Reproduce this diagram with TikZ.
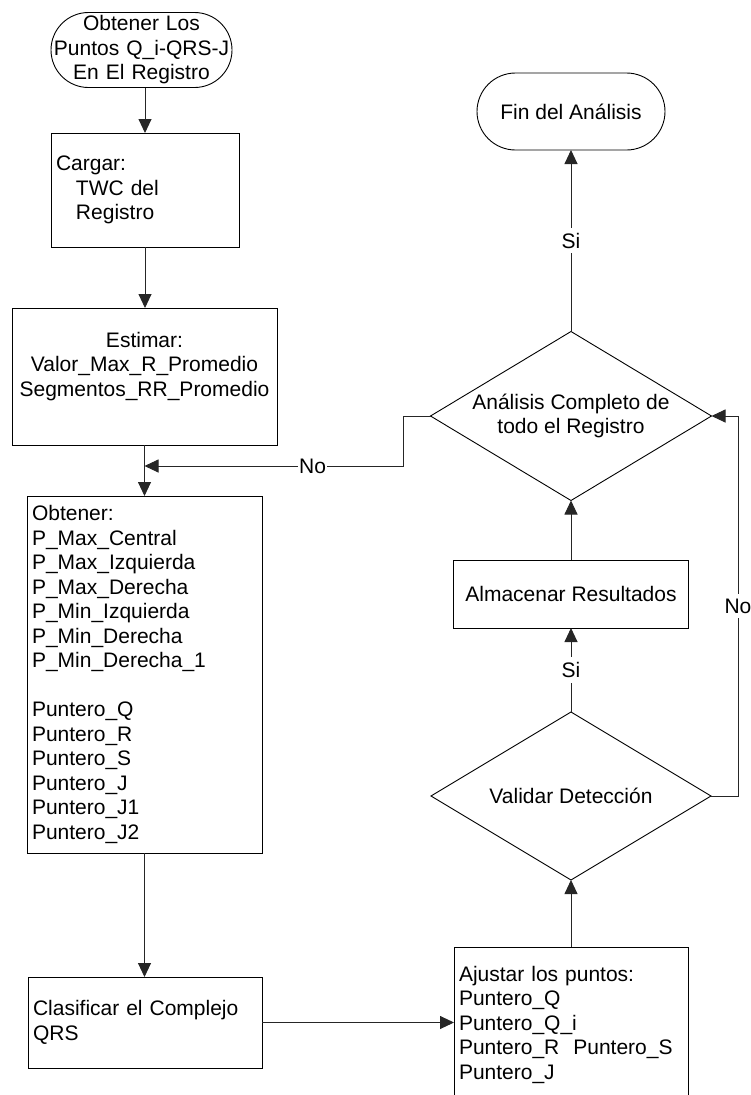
\documentclass[tikz,border=0pt]{standalone}
\usepackage{fontspec}
\setmainfont{Liberation Sans}
\usetikzlibrary{arrows.meta,shapes.geometric}
\begin{document}
\begin{tikzpicture}[x=1pt,y=-1pt,
  every node/.style={font=\fontsize{21}{24.5}\selectfont, outer sep=0pt},
  box/.style={draw=black, line width=0.9pt, rectangle, inner sep=0pt},
  term/.style={draw=black, line width=0.9pt, rectangle, rounded corners=#1, inner sep=0pt, align=center},
  decision/.style={draw=black, line width=0.9pt, diamond, inner sep=0pt, align=center, aspect=1.67},
  flow/.style={draw=black!85, line width=0.9pt, -{Triangle[length=14pt,width=13pt]}},
  lbl/.style={fill=white, inner xsep=1pt, inner ysep=5pt}
]
\useasboundingbox (0,0) rectangle (750,1095);

% left column
\node[term=37.5pt, minimum width=181pt, minimum height=75pt, text width=181pt] (inicio) at (141.5,50)
  {Obtener Los\\Puntos Q\_i-QRS-J\\En El Registro};
\node[box, minimum width=188pt, minimum height=114pt, text width=178pt, align=left] (cargar) at (145,190)
  {Cargar:\\\hspace*{20pt}TWC del\\\hspace*{20pt}Registro};
\node[box, minimum width=265pt, minimum height=137pt, text width=265pt, align=center] (estimar) at (144.5,376.5)
  {Estimar:\\Valor\_Max\_R\_Promedio\\Segmentos\_RR\_Promedio\\\mbox{}};
\node[box, minimum width=235pt, minimum height=357pt, text width=225pt, align=left] (obtener) at (144.5,674.5)
  {Obtener:\\P\_Max\_Central\\P\_Max\_Izquierda\\P\_Max\_Derecha\\P\_Min\_Izquierda\\P\_Min\_Derecha\\P\_Min\_Derecha\_1\\\mbox{}\\Puntero\_Q\\Puntero\_R\\Puntero\_S\\Puntero\_J\\Puntero\_J1\\Puntero\_J2};
\node[box, minimum width=234pt, minimum height=91pt, text width=224pt, align=left] (clasificar) at (145,1022.5)
  {Clasificar el Complejo\\QRS};

% right column
\node[term=38.5pt, minimum width=188pt, minimum height=77pt] (fin) at (571,111.5) {Fin del Análisis};
\node[decision, minimum width=281pt, minimum height=169pt] (analisis) at (571,416)
  {Análisis Completo de\\todo el Registro};
\node[box, minimum width=235pt, minimum height=68pt] (almacenar) at (571,594) {Almacenar Resultados};
\node[decision, minimum width=280pt, minimum height=168pt] (validar) at (571,796) {Validar Detección};
\node[box, minimum width=234pt, minimum height=155pt, text width=224pt, align=left] (ajustar) at (571,1024.5)
  {Ajustar los puntos:\\Puntero\_Q\\Puntero\_Q\_i\\Puntero\_R\ \ Puntero\_S\\Puntero\_J};

% bends of the two return loops
\coordinate (codo) at (403,466);
\coordinate (lazo) at (738,416);

% connectors
\draw[flow] (cargar.north |- inicio.south) -- (cargar.north);
\draw[flow] (cargar.south) -- (cargar.south |- estimar.north);
\draw[flow] (estimar.south) -- (estimar.south |- obtener.north);
\draw[flow] (obtener.south) -- (obtener.south |- clasificar.north);
\draw[flow] (clasificar.east) -- (clasificar.east -| ajustar.west);
\draw[flow] (ajustar.north) -- (validar.south);
\draw[flow] (validar.north) -- node[lbl] (si2) {Si} (almacenar.south);
\draw[flow] (almacenar.north) -- (analisis.south);
\draw[flow] (analisis.north) -- node[lbl] (si1) {Si} (fin.south);
\draw[flow] (analisis.west) -| (codo) -- node[lbl, pos=0.35] (no1) {No} (codo -| obtener.north);
\draw[flow] (validar.east) -| node[lbl, pos=0.75] (no2) {No} (lazo) -- (analisis.east);
\end{tikzpicture}
\end{document}
